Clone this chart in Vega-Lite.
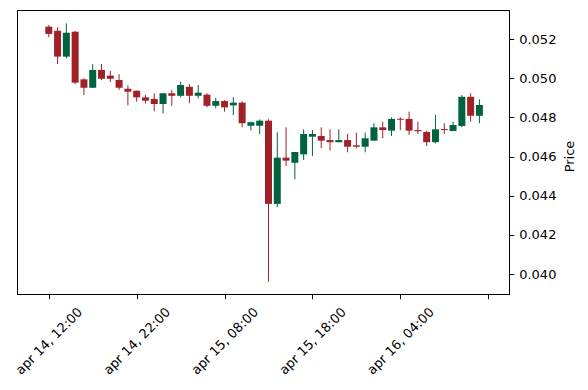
{
  "$schema": "https://vega.github.io/schema/vega-lite/v6.json",
  "width": 492,
  "height": 284,
  "autosize": {"type": "none"},
  "padding": {"left": 17, "top": 10, "right": 79, "bottom": 96},
  "background": "white",
  "config": {
    "view": {"stroke": "black", "strokeWidth": 1},
    "axis": {"grid": false, "domainColor": "black", "tickColor": "black", "labelColor": "black", "titleColor": "black", "labelFont": "DejaVu Sans", "titleFont": "DejaVu Sans", "labelFontSize": 13, "titleFontSize": 13, "titleFontWeight": "normal", "tickSize": 4.7, "domainWidth": 1, "tickWidth": 1}
  },
  "data": {
    "values": [
      {"t": "2023-04-14T12:00:00Z", "o": 0.05263, "h": 0.05271, "l": 0.05209, "c": 0.05226},
      {"t": "2023-04-14T13:00:00Z", "o": 0.05242, "h": 0.05260, "l": 0.05072, "c": 0.05110},
      {"t": "2023-04-14T14:00:00Z", "o": 0.05110, "h": 0.05280, "l": 0.05101, "c": 0.05232},
      {"t": "2023-04-14T15:00:00Z", "o": 0.05237, "h": 0.05241, "l": 0.04970, "c": 0.04977},
      {"t": "2023-04-14T16:00:00Z", "o": 0.04994, "h": 0.04999, "l": 0.04914, "c": 0.04951},
      {"t": "2023-04-14T17:00:00Z", "o": 0.04951, "h": 0.05072, "l": 0.04951, "c": 0.05042},
      {"t": "2023-04-14T18:00:00Z", "o": 0.05042, "h": 0.05072, "l": 0.04990, "c": 0.04997},
      {"t": "2023-04-14T19:00:00Z", "o": 0.05013, "h": 0.05038, "l": 0.04980, "c": 0.04997},
      {"t": "2023-04-14T20:00:00Z", "o": 0.04991, "h": 0.05020, "l": 0.04940, "c": 0.04951},
      {"t": "2023-04-14T21:00:00Z", "o": 0.04946, "h": 0.04963, "l": 0.04861, "c": 0.04931},
      {"t": "2023-04-14T22:00:00Z", "o": 0.04936, "h": 0.04936, "l": 0.04880, "c": 0.04902},
      {"t": "2023-04-14T23:00:00Z", "o": 0.04902, "h": 0.04914, "l": 0.04871, "c": 0.04885},
      {"t": "2023-04-15T00:00:00Z", "o": 0.04894, "h": 0.04923, "l": 0.04831, "c": 0.04868},
      {"t": "2023-04-15T01:00:00Z", "o": 0.04868, "h": 0.04923, "l": 0.04820, "c": 0.04923},
      {"t": "2023-04-15T02:00:00Z", "o": 0.04923, "h": 0.04940, "l": 0.04859, "c": 0.04910},
      {"t": "2023-04-15T03:00:00Z", "o": 0.04910, "h": 0.04982, "l": 0.04902, "c": 0.04965},
      {"t": "2023-04-15T04:00:00Z", "o": 0.04956, "h": 0.04969, "l": 0.04872, "c": 0.04910},
      {"t": "2023-04-15T05:00:00Z", "o": 0.04910, "h": 0.04965, "l": 0.04897, "c": 0.04926},
      {"t": "2023-04-15T06:00:00Z", "o": 0.04916, "h": 0.04923, "l": 0.04851, "c": 0.04859},
      {"t": "2023-04-15T07:00:00Z", "o": 0.04859, "h": 0.04900, "l": 0.04846, "c": 0.04883},
      {"t": "2023-04-15T08:00:00Z", "o": 0.04883, "h": 0.04888, "l": 0.04829, "c": 0.04851},
      {"t": "2023-04-15T09:00:00Z", "o": 0.04861, "h": 0.04902, "l": 0.04812, "c": 0.04875},
      {"t": "2023-04-15T10:00:00Z", "o": 0.04875, "h": 0.04883, "l": 0.04749, "c": 0.04770},
      {"t": "2023-04-15T11:00:00Z", "o": 0.04757, "h": 0.04778, "l": 0.04732, "c": 0.04775},
      {"t": "2023-04-15T12:00:00Z", "o": 0.04757, "h": 0.04790, "l": 0.04715, "c": 0.04783},
      {"t": "2023-04-15T13:00:00Z", "o": 0.04783, "h": 0.04790, "l": 0.03961, "c": 0.04358},
      {"t": "2023-04-15T14:00:00Z", "o": 0.04358, "h": 0.04724, "l": 0.04341, "c": 0.04594},
      {"t": "2023-04-15T15:00:00Z", "o": 0.04594, "h": 0.04749, "l": 0.04552, "c": 0.04579},
      {"t": "2023-04-15T16:00:00Z", "o": 0.04568, "h": 0.04623, "l": 0.04484, "c": 0.04623},
      {"t": "2023-04-15T17:00:00Z", "o": 0.04611, "h": 0.04739, "l": 0.04582, "c": 0.04715},
      {"t": "2023-04-15T18:00:00Z", "o": 0.04701, "h": 0.04735, "l": 0.04603, "c": 0.04715},
      {"t": "2023-04-15T19:00:00Z", "o": 0.04705, "h": 0.04749, "l": 0.04642, "c": 0.04681},
      {"t": "2023-04-15T20:00:00Z", "o": 0.04684, "h": 0.04739, "l": 0.04630, "c": 0.04673},
      {"t": "2023-04-15T21:00:00Z", "o": 0.04673, "h": 0.04739, "l": 0.04673, "c": 0.04684},
      {"t": "2023-04-15T22:00:00Z", "o": 0.04684, "h": 0.04715, "l": 0.04621, "c": 0.04650},
      {"t": "2023-04-15T23:00:00Z", "o": 0.04657, "h": 0.04722, "l": 0.04642, "c": 0.04650},
      {"t": "2023-04-16T00:00:00Z", "o": 0.04650, "h": 0.04722, "l": 0.04621, "c": 0.04693},
      {"t": "2023-04-16T01:00:00Z", "o": 0.04681, "h": 0.04770, "l": 0.04681, "c": 0.04749},
      {"t": "2023-04-16T02:00:00Z", "o": 0.04749, "h": 0.04778, "l": 0.04693, "c": 0.04735},
      {"t": "2023-04-16T03:00:00Z", "o": 0.04732, "h": 0.04800, "l": 0.04705, "c": 0.04792},
      {"t": "2023-04-16T04:00:00Z", "o": 0.04793, "h": 0.04800, "l": 0.04735, "c": 0.04788},
      {"t": "2023-04-16T05:00:00Z", "o": 0.04792, "h": 0.04829, "l": 0.04710, "c": 0.04732},
      {"t": "2023-04-16T06:00:00Z", "o": 0.04735, "h": 0.04778, "l": 0.04715, "c": 0.04729},
      {"t": "2023-04-16T07:00:00Z", "o": 0.04725, "h": 0.04732, "l": 0.04654, "c": 0.04673},
      {"t": "2023-04-16T08:00:00Z", "o": 0.04673, "h": 0.04812, "l": 0.04667, "c": 0.04739},
      {"t": "2023-04-16T09:00:00Z", "o": 0.04740, "h": 0.04770, "l": 0.04715, "c": 0.04735},
      {"t": "2023-04-16T10:00:00Z", "o": 0.04730, "h": 0.04778, "l": 0.04730, "c": 0.04761},
      {"t": "2023-04-16T11:00:00Z", "o": 0.04756, "h": 0.04914, "l": 0.04749, "c": 0.04905},
      {"t": "2023-04-16T12:00:00Z", "o": 0.04905, "h": 0.04923, "l": 0.04778, "c": 0.04808},
      {"t": "2023-04-16T13:00:00Z", "o": 0.04808, "h": 0.04892, "l": 0.04770, "c": 0.04863}
    ]
  },
  "encoding": {
    "x": {
      "field": "t",
      "type": "temporal",
      "title": null,
      "scale": {
        "type": "utc",
        "nice": false,
        "padding": 0,
        "domain": [1681460580000, 1681662120000]
      },
      "axis": {
        "values": [
          {"year": 2023, "month": 4, "date": 14, "hours": 12, "utc": true},
          {"year": 2023, "month": 4, "date": 14, "hours": 22, "utc": true},
          {"year": 2023, "month": 4, "date": 15, "hours": 8, "utc": true},
          {"year": 2023, "month": 4, "date": 15, "hours": 18, "utc": true},
          {"year": 2023, "month": 4, "date": 16, "hours": 4, "utc": true},
          {"year": 2023, "month": 4, "date": 16, "hours": 14, "utc": true}
        ],
        "labelExpr": "utchours(datum.value) == 14 ? '' : lower(utcFormat(datum.value, '%b %d, %H:%M'))",
        "labelAngle": -45,
        "labelAlign": "center",
        "labelBaseline": "middle",
        "labelPadding": 42,
        "labelOverlap": false,
        "labelBound": false,
        "labelFlush": false
      }
    },
    "color": {
      "condition": {"test": "datum.c >= datum.o", "value": "#006340"},
      "value": "#a02128"
    }
  },
  "layer": [
    {
      "mark": {"type": "rule", "strokeWidth": 1},
      "encoding": {
        "y": {
          "field": "l",
          "type": "quantitative",
          "title": "Price",
          "scale": {"domain": [0.03898, 0.053481], "nice": false, "zero": false, "padding": 0},
          "axis": {
            "orient": "right",
            "values": [0.040, 0.042, 0.044, 0.046, 0.048, 0.050, 0.052],
            "format": ".3f",
            "labelPadding": 5,
            "titleAngle": 270,
            "titleBaseline": "top",
            "titlePadding": 8,
            "titleY": 146
          }
        },
        "y2": {"field": "h"}
      }
    },
    {
      "mark": {"type": "bar", "size": 7},
      "encoding": {
        "y": {"field": "o", "type": "quantitative"},
        "y2": {"field": "c"}
      }
    }
  ]
}
